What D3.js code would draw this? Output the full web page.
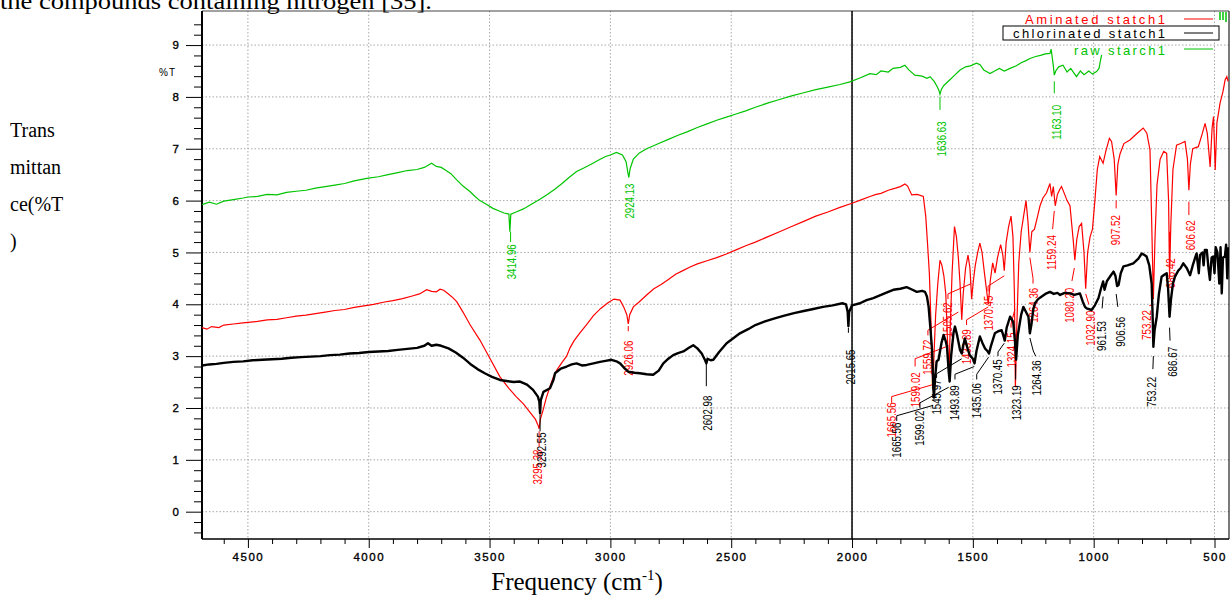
<!DOCTYPE html>
<html><head><meta charset="utf-8">
<script src="https://cdn.jsdelivr.net/npm/d3@7"></script>
<style>body{margin:0;background:#fff;} svg{display:block;}</style>
</head><body><svg id="c" width="1232" height="597"></svg>
<script>
// ---------- data ----------
const xTicks = [4500,4000,3500,3000,2500,2000,1500,1000,500];
const yTicks = [0,1,2,3,4,5,6,7,8,9];
const seriesNames = ["Aminated statch1","chlorinated statch1","raw starch1"];
const seriesColors = ["#ff0000","#000000","#00c400"];

const rawStarch = [[4690,5.92],[4660,5.97],[4630,5.93],[4600,5.99],[4560,6.02],[4520,6.05],[4500,6.07],[4460,6.08],[4420,6.12],[4380,6.11],[4340,6.16],[4300,6.18],[4260,6.2],[4220,6.24],[4180,6.27],[4140,6.3],[4100,6.33],[4060,6.38],[4008,6.43],[3960,6.46],[3920,6.5],[3880,6.54],[3840,6.58],[3800,6.6],[3770,6.64],[3740,6.72],[3720,6.66],[3700,6.64],[3680,6.58],[3660,6.52],[3636,6.4],[3610,6.28],[3580,6.17],[3560,6.08],[3540,6.0],[3510,5.92],[3486,5.85],[3460,5.8],[3440,5.76],[3420,5.74],[3416,5.4],[3412,5.74],[3390,5.78],[3360,5.84],[3320,5.95],[3290,6.03],[3264,6.11],[3230,6.22],[3200,6.33],[3170,6.45],[3140,6.56],[3110,6.63],[3080,6.7],[3050,6.78],[3020,6.85],[3000,6.88],[2975,6.93],[2950,6.88],[2935,6.75],[2928,6.55],[2924,6.45],[2918,6.62],[2905,6.8],[2880,6.92],[2850,7.0],[2800,7.1],[2760,7.18],[2720,7.26],[2680,7.33],[2640,7.41],[2600,7.48],[2560,7.55],[2520,7.61],[2480,7.67],[2440,7.73],[2400,7.8],[2350,7.88],[2300,7.95],[2250,8.02],[2200,8.08],[2150,8.14],[2100,8.19],[2050,8.24],[2009,8.29],[1970,8.36],[1926,8.45],[1900,8.43],[1880,8.5],[1850,8.48],[1830,8.55],[1800,8.57],[1781,8.61],[1765,8.52],[1740,8.42],[1710,8.4],[1690,8.36],[1677,8.39],[1660,8.3],[1648,8.2],[1640,8.12],[1636,8.05],[1630,8.15],[1620,8.22],[1595,8.33],[1575,8.42],[1553,8.52],[1530,8.58],[1510,8.6],[1485,8.65],[1470,8.62],[1455,8.52],[1440,8.48],[1429,8.45],[1410,8.5],[1390,8.55],[1370,8.5],[1346,8.55],[1320,8.6],[1300,8.66],[1280,8.7],[1264,8.74],[1240,8.78],[1220,8.8],[1200,8.83],[1181,8.84],[1176,8.92],[1172,8.78],[1167,8.6],[1163,8.42],[1157,8.5],[1145,8.58],[1127,8.61],[1110,8.48],[1095,8.55],[1080,8.45],[1071,8.39],[1055,8.5],[1040,8.43],[1020,8.5],[1005,8.44],[988,8.49],[978,8.55],[972,8.7],[967,8.81]];

const aminated = [[4690,3.55],[4670,3.52],[4650,3.57],[4620,3.55],[4600,3.6],[4560,3.62],[4520,3.64],[4500,3.65],[4460,3.67],[4420,3.7],[4380,3.71],[4340,3.74],[4300,3.77],[4260,3.79],[4220,3.82],[4180,3.85],[4140,3.88],[4100,3.9],[4060,3.94],[4020,3.97],[3980,4.0],[3940,4.04],[3900,4.07],[3860,4.11],[3820,4.16],[3790,4.2],[3760,4.28],[3740,4.25],[3720,4.24],[3705,4.29],[3690,4.27],[3670,4.2],[3650,4.12],[3636,4.05],[3610,3.85],[3580,3.6],[3540,3.31],[3500,2.97],[3457,2.6],[3420,2.38],[3390,2.22],[3360,2.08],[3330,1.9],[3310,1.78],[3298,1.65],[3295,1.6],[3290,1.78],[3279,1.95],[3265,2.2],[3250,2.41],[3236,2.6],[3222,2.73],[3200,2.88],[3181,3.0],[3167,3.16],[3150,3.3],[3126,3.45],[3100,3.6],[3070,3.78],[3040,3.92],[3010,4.03],[2985,4.1],[2960,4.08],[2945,3.95],[2932,3.8],[2926,3.62],[2920,3.8],[2905,3.95],[2880,4.05],[2850,4.18],[2820,4.3],[2790,4.38],[2760,4.48],[2730,4.58],[2700,4.65],[2670,4.72],[2640,4.78],[2600,4.84],[2560,4.9],[2520,4.97],[2480,5.05],[2440,5.13],[2400,5.2],[2350,5.3],[2300,5.4],[2250,5.5],[2200,5.6],[2150,5.7],[2100,5.78],[2050,5.87],[2000,5.95],[1960,6.02],[1926,6.08],[1900,6.12],[1880,6.14],[1850,6.2],[1820,6.24],[1800,6.27],[1781,6.32],[1770,6.28],[1753,6.11],[1730,6.12],[1705,6.08],[1695,5.7],[1688,5.2],[1680,4.6],[1673,3.6],[1666,2.35],[1661,3.0],[1654,3.8],[1645,4.4],[1636,4.85],[1628,4.75],[1620,4.55],[1612,4.2],[1605,3.3],[1599,2.6],[1594,3.5],[1586,4.6],[1576,5.5],[1568,5.3],[1560,4.9],[1553,4.4],[1546,3.7],[1540,4.2],[1530,4.7],[1520,4.95],[1512,4.7],[1505,4.1],[1498,4.45],[1490,4.75],[1480,5.0],[1471,5.18],[1462,5.0],[1452,4.6],[1444,4.3],[1436,4.0],[1428,4.45],[1418,4.8],[1408,4.6],[1398,4.9],[1385,5.15],[1376,4.95],[1370,4.65],[1362,5.2],[1352,5.5],[1342,5.7],[1334,5.3],[1328,4.2],[1324,2.4],[1318,3.6],[1310,4.8],[1300,5.4],[1290,5.7],[1280,6.0],[1272,5.6],[1264,5.0],[1256,5.4],[1245,5.45],[1232,5.7],[1222,5.9],[1210,6.05],[1195,6.15],[1181,6.33],[1174,6.08],[1167,6.27],[1159,5.9],[1150,6.12],[1140,6.22],[1133,6.27],[1120,6.12],[1110,6.0],[1098,5.9],[1090,5.5],[1084,5.2],[1078,4.85],[1070,5.25],[1060,5.5],[1050,5.56],[1040,5.0],[1033,4.3],[1025,5.0],[1015,5.3],[1005,5.45],[995,6.0],[985,6.6],[975,6.85],[961,6.72],[950,6.95],[935,7.2],[926,7.14],[915,6.8],[907,6.1],[900,6.7],[891,6.9],[875,7.1],[850,7.17],[820,7.3],[795,7.4],[780,7.3],[767,6.98],[760,5.6],[753,4.1],[746,5.3],[738,6.3],[725,6.8],[710,6.95],[698,6.91],[690,6.0],[686,4.5],[681,5.5],[672,6.6],[657,7.07],[640,7.1],[622,7.14],[612,6.8],[606,6.2],[600,6.7],[590,7.0],[567,7.04],[550,7.3],[539,7.49],[530,7.3],[518,6.65],[510,7.4],[504,7.62],[497,6.59],[490,7.5],[477,7.88],[465,8.1],[456,8.33],[449,8.39],[444,8.3]];

const chlorinated = [[4690,2.82],[4660,2.84],[4630,2.85],[4600,2.87],[4560,2.89],[4520,2.9],[4480,2.92],[4440,2.93],[4400,2.94],[4360,2.95],[4320,2.97],[4280,2.98],[4240,2.99],[4200,3.0],[4160,3.02],[4120,3.03],[4080,3.05],[4040,3.06],[4000,3.08],[3960,3.09],[3920,3.1],[3880,3.12],[3840,3.14],[3800,3.16],[3770,3.2],[3755,3.25],[3740,3.2],[3720,3.22],[3700,3.2],[3670,3.15],[3640,3.07],[3610,2.97],[3580,2.85],[3550,2.75],[3520,2.67],[3490,2.6],[3457,2.54],[3430,2.52],[3400,2.5],[3374,2.51],[3345,2.45],[3320,2.35],[3300,2.22],[3294,2.12],[3291,1.9],[3288,2.15],[3277,2.31],[3250,2.38],[3235,2.55],[3229,2.67],[3205,2.76],[3181,2.8],[3160,2.84],[3140,2.86],[3118,2.82],[3098,2.83],[3070,2.86],[3043,2.89],[3020,2.91],[2995,2.93],[2975,2.9],[2960,2.86],[2940,2.76],[2926,2.7],[2900,2.68],[2878,2.67],[2850,2.65],[2823,2.64],[2800,2.72],[2781,2.86],[2760,2.95],[2740,3.02],[2720,3.06],[2698,3.09],[2675,3.16],[2657,3.21],[2640,3.15],[2622,3.05],[2608,2.92],[2603,2.86],[2598,2.95],[2585,2.92],[2574,2.93],[2550,3.08],[2519,3.25],[2490,3.35],[2464,3.44],[2430,3.52],[2400,3.6],[2360,3.67],[2320,3.73],[2280,3.78],[2240,3.83],[2200,3.87],[2160,3.91],[2120,3.95],[2080,3.98],[2040,4.02],[2025,4.0],[2018,3.85],[2015,3.58],[2012,3.85],[2000,3.98],[1967,4.02],[1940,4.08],[1912,4.12],[1880,4.18],[1850,4.24],[1829,4.28],[1800,4.3],[1774,4.33],[1750,4.28],[1732,4.24],[1710,4.26],[1698,4.24],[1690,4.15],[1683,3.95],[1675,3.5],[1669,3.12],[1663,2.35],[1661,2.2],[1656,2.6],[1650,2.9],[1642,2.93],[1630,3.25],[1621,3.41],[1613,3.3],[1607,3.18],[1600,2.7],[1596,2.51],[1590,3.0],[1580,3.45],[1574,3.57],[1565,3.4],[1553,3.12],[1546,3.05],[1540,3.2],[1533,3.34],[1522,3.15],[1513,3.02],[1500,2.95],[1493,2.86],[1485,3.1],[1471,3.38],[1460,3.25],[1450,3.15],[1440,3.1],[1433,3.05],[1425,3.2],[1409,3.44],[1395,3.48],[1381,3.5],[1374,3.4],[1368,3.3],[1360,3.55],[1346,3.76],[1333,3.66],[1326,3.3],[1321,2.93],[1314,3.4],[1300,3.8],[1291,3.95],[1280,3.85],[1270,3.76],[1264,3.44],[1258,3.6],[1250,3.9],[1243,4.02],[1230,4.1],[1215,4.15],[1200,4.2],[1181,4.24],[1165,4.2],[1150,4.22],[1139,4.18],[1120,4.22],[1098,4.21],[1080,4.18],[1057,4.21],[1045,4.05],[1036,3.95],[1029,3.92],[1015,3.9],[1009,3.89],[995,3.98],[980,4.12],[970,4.3],[961,4.44],[955,4.28],[945,4.45],[930,4.55],[918,4.63],[910,4.55],[903,4.35],[897,4.37],[888,4.6],[877,4.73],[860,4.75],[836,4.79],[815,4.88],[801,4.98],[790,4.95],[781,4.92],[770,4.75],[760,4.4],[755,3.6],[753,3.18],[748,3.5],[739,3.76],[730,4.2],[719,4.53],[708,4.57],[698,4.6],[692,4.3],[686,3.76],[680,4.1],[672,4.4],[664,4.53],[650,4.65],[640,4.7],[629,4.79],[615,4.7],[601,4.56],[590,4.75],[580,4.9],[574,4.98],[565,4.6],[560,4.95],[550,5.0],[545,4.75],[540,5.05],[532,5.05],[525,4.7],[519,4.47],[512,4.9],[505,4.92],[500,4.6],[495,5.1],[488,5.0],[480,4.4],[475,5.1],[470,4.21],[465,4.9],[457,4.92],[452,5.15],[447,4.5],[442,5.1]];

// peak annotations: text, label centre (wavenumber, %T), leader points (wavenumber, %T)
const rawPeaks = [
  {t:"3414.96", lx:3411, ly:4.82, lead:[[3413,5.4],[3413,5.2]]},
  {t:"2924.13", lx:2919, ly:5.99, lead:[[2924,6.45],[2924,6.5]]},
  {t:"1636.63", lx:1629, ly:7.19, lead:[[1636,8.0],[1636,7.75]]},
  {t:"1163.10", lx:1152, ly:7.51, lead:[[1163,8.3],[1163,8.07]]}
];
const aminatedPeaks = [
  {t:"3295.38", lx:3302, ly:0.86, lead:[[3295,1.55],[3295,1.25]]},
  {t:"2926.06", lx:2926, ly:2.96, lead:[[2926,3.58],[2926,3.48]]},
  {t:"1665.56", lx:1836, ly:1.77, lead:[[1836,2.1],[1836,2.22],[1666,2.45]]},
  {t:"1599.02", lx:1739, ly:2.35, lead:[[1739,2.8],[1739,2.95],[1600,3.2]]},
  {t:"1559.72", lx:1686, ly:2.98, lead:[[1686,3.4],[1686,3.5],[1560,3.85]]},
  {t:"1505.62", lx:1603, ly:3.70, lead:[[1603,4.1],[1603,4.2],[1506,4.4]]},
  {t:"1433.89", lx:1526, ly:3.18, lead:[[1526,3.6],[1526,3.7],[1436,3.95]]},
  {t:"1370.45", lx:1437, ly:3.83, lead:[[1437,4.25],[1437,4.35],[1370,4.55]]},
  {t:"1324.15", lx:1342, ly:3.12, lead:[[1342,3.55],[1342,3.62],[1326,3.9]]},
  {t:"1264.36", lx:1251, ly:3.98, lead:[[1251,4.4],[1251,4.5],[1264,4.9]]},
  {t:"1159.24", lx:1174, ly:5.0, lead:[[1163,5.8],[1170,5.45]]},
  {t:"1080.20", lx:1098, ly:3.98, lead:[[1080,4.7],[1090,4.45]]},
  {t:"1032.90", lx:1015, ly:3.54, lead:[[1033,4.2],[1020,4.0]]},
  {t:"907.52", lx:908, ly:5.43, lead:[[907,6.0],[907,5.85]]},
  {t:"753.22", lx:780, ly:3.6, lead:[[753,4.0],[770,3.97]]},
  {t:"686.42", lx:684, ly:4.6, lead:[[686,5.4],[686,5.2]]},
  {t:"606.62", lx:601, ly:5.33, lead:[[606,5.98],[606,5.72]]}
];
const chlorinatedPeaks = [
  {t:"3292.55", lx:3283, ly:1.19, lead:[[3291,1.88],[3291,1.55]]},
  {t:"2602.98", lx:2599, ly:1.9, lead:[[2603,2.85],[2603,2.42]]},
  {t:"2015.65", lx:2008, ly:2.79, lead:[[2015,3.55],[2015,3.45]]},
  {t:"1665.56", lx:1815, ly:1.38, lead:[[1815,1.75],[1815,1.85],[1665,2.05]]},
  {t:"1599.02", lx:1719, ly:1.61, lead:[[1719,2.0],[1719,2.1],[1600,2.4]]},
  {t:"1545.97", lx:1650, ly:2.21, lead:[[1650,2.58],[1650,2.66],[1546,2.95]]},
  {t:"1493.89", lx:1574, ly:2.1, lead:[[1574,2.55],[1574,2.65],[1494,2.8]]},
  {t:"1435.06", lx:1484, ly:2.14, lead:[[1484,2.55],[1484,2.65],[1435,2.98]]},
  {t:"1370.45", lx:1396, ly:2.6, lead:[[1396,3.0],[1396,3.08],[1370,3.25]]},
  {t:"1323.19", lx:1319, ly:2.1, lead:[[1323,2.85],[1323,2.55]]},
  {t:"1264.36", lx:1235, ly:2.58, lead:[[1264,3.35],[1250,3.1],[1240,3.0]]},
  {t:"961.53", lx:967, ly:3.39, lead:[[961,4.15],[965,3.92]]},
  {t:"906.56", lx:887, ly:3.47, lead:[[907,4.2],[900,3.95]]},
  {t:"753.22", lx:759, ly:2.31, lead:[[753,3.0],[755,2.75]]},
  {t:"686.67", lx:672, ly:2.89, lead:[[686,3.55],[684,3.3]]}
];

// ---------- drawing ----------
const svg = d3.select("#c");
const L = 202, R = 1229, T = 11, B = 539;
const x = d3.scaleLinear().domain([4690, 440]).range([L, R]);
const y = d3.scaleLinear().domain([-0.527, 9.657]).range([B, T]);

// top cut-off text (continues from the page above)
svg.append("text").attr("x", 0).attr("y", 9)
  .attr("font-family", "Liberation Serif, Times New Roman, serif").attr("font-size", 24)
  .attr("textLength", 432).attr("lengthAdjust", "spacingAndGlyphs")
  .text("the compounds containing nitrogen [35].");

// side label
["Trans","mittan","ce(%T",")"].forEach((s, i) => {
  svg.append("text").attr("x", 10).attr("y", 137 + i * 37)
    .attr("font-family", "Liberation Serif, Times New Roman, serif").attr("font-size", 20)
    .text(s);
});

svg.append("defs").append("clipPath").attr("id", "clip")
  .append("rect").attr("x", L).attr("y", T).attr("width", R - L).attr("height", B - T);

// grid
const grid = svg.append("g").attr("stroke", "#a8a8a8").attr("stroke-dasharray", "1.5,2").attr("stroke-width", 1);
xTicks.forEach(v => grid.append("line").attr("x1", x(v)).attr("x2", x(v)).attr("y1", T).attr("y2", B));
yTicks.forEach(v => grid.append("line").attr("x1", L).attr("x2", R).attr("y1", y(v)).attr("y2", y(v)));

// axes
const fontAx = "Liberation Sans, Arial, sans-serif";
const xMinor = d3.range(4600, 400, -100).filter(v => v % 500 !== 0);
svg.append("g").attr("transform", `translate(0,${B})`)
  .call(d3.axisBottom(x).tickValues(xMinor).tickSize(5).tickFormat(""))
  .call(g => g.select(".domain").remove());
const xa = svg.append("g").attr("transform", `translate(0,${B})`)
  .call(d3.axisBottom(x).tickValues(xTicks).tickSize(9).tickPadding(5).tickFormat(d3.format("d")))
  .call(g => g.select(".domain").remove());
xa.selectAll("text").attr("font-family", fontAx).attr("font-size", 11.5).attr("letter-spacing", 1.5)
  .attr("stroke", "#000").attr("stroke-width", 0.35);

const yMinor = d3.range(-4, 95, 2).map(v => v / 10).filter(v => Math.abs(v - Math.round(v)) > 0.01);
svg.append("g").attr("transform", `translate(${L},0)`)
  .call(d3.axisLeft(y).tickValues(yMinor).tickSize(8).tickFormat(""))
  .call(g => g.select(".domain").remove());
const ya = svg.append("g").attr("transform", `translate(${L},0)`)
  .call(d3.axisLeft(y).tickValues(yTicks).tickSize(16).tickPadding(7).tickFormat(d3.format("d")))
  .call(g => g.select(".domain").remove());
ya.selectAll("text").attr("font-family", fontAx).attr("font-size", 11.5)
  .attr("stroke", "#000").attr("stroke-width", 0.35);

svg.append("text").attr("x", 176).attr("y", 76).attr("text-anchor", "end")
  .attr("font-family", fontAx).attr("font-size", 10).attr("letter-spacing", 1).text("%T");

// frame
svg.append("line").attr("x1", L).attr("x2", R).attr("y1", T).attr("y2", T).attr("stroke", "#444").attr("stroke-width", 1);
svg.append("line").attr("x1", R).attr("x2", R).attr("y1", T).attr("y2", B).attr("stroke", "#222").attr("stroke-width", 1.2);
svg.append("line").attr("x1", L).attr("x2", L).attr("y1", T).attr("y2", B).attr("stroke", "#000").attr("stroke-width", 2);
svg.append("line").attr("x1", L).attr("x2", R).attr("y1", B).attr("y2", B).attr("stroke", "#000").attr("stroke-width", 1.5);
// split line at 2000
svg.append("line").attr("x1", x(2000)).attr("x2", x(2000)).attr("y1", T).attr("y2", B).attr("stroke", "#000").attr("stroke-width", 1.5);

// x axis title
const xt = svg.append("text").attr("x", 577).attr("y", 590).attr("text-anchor", "middle")
  .attr("font-family", "Liberation Serif, Times New Roman, serif").attr("font-size", 25);
xt.append("tspan").text("Frequency (cm");
xt.append("tspan").attr("font-size", 15).attr("dy", -10).text("-1");
xt.append("tspan").attr("dy", 10).text(")");

// series
const line = d3.line().x(d => x(d[0])).y(d => y(d[1]));
const plot = svg.append("g").attr("clip-path", "url(#clip)");
const labelFont = "Liberation Sans, Arial, sans-serif";
function drawPeaks(peaks, color) {
  const g = svg.append("g");
  peaks.forEach(p => {
    g.append("path").attr("d", line(p.lead)).attr("fill", "none").attr("stroke", color).attr("stroke-width", 1);
    g.append("text").attr("transform", `translate(${x(p.lx)},${y(p.ly)}) rotate(-90)`)
      .attr("text-anchor", "middle").attr("dy", "0.36em")
      .attr("font-family", labelFont).attr("font-size", 12.5).attr("fill", color)
      .attr("textLength", p.t.length * 5).attr("lengthAdjust", "spacingAndGlyphs")
      .text(p.t);
  });
}
plot.append("path").attr("d", line(rawStarch)).attr("fill", "none").attr("stroke", seriesColors[2]).attr("stroke-width", 1.2);
drawPeaks(rawPeaks, seriesColors[2]);
plot.append("path").attr("d", line(aminated)).attr("fill", "none").attr("stroke", seriesColors[0]).attr("stroke-width", 1.2);
drawPeaks(aminatedPeaks, seriesColors[0]);
svg.append("g").attr("clip-path", "url(#clip)").append("path").attr("d", line(chlorinated))
  .attr("fill", "none").attr("stroke", seriesColors[1]).attr("stroke-width", 2.4).attr("stroke-linejoin", "round");
drawPeaks(chlorinatedPeaks, seriesColors[1]);

// legend
const lg = svg.append("g");
lg.append("rect").attr("x", 1003).attr("y", 26).attr("width", 216).attr("height", 14)
  .attr("fill", "#fff").attr("stroke", "#000").attr("stroke-width", 1);
const legY = [24, 38, 55], legLineY = [19, 33, 49], legW = [140, 152, 91];
seriesNames.forEach((n, i) => {
  lg.append("text").attr("x", 1165).attr("y", legY[i]).attr("text-anchor", "end")
    .attr("font-family", fontAx).attr("font-size", 13).attr("fill", seriesColors[i])
    .attr("textLength", legW[i]).attr("lengthAdjust", "spacing").text(n);
  lg.append("line").attr("x1", 1184).attr("x2", 1213).attr("y1", legLineY[i]).attr("y2", legLineY[i])
    .attr("stroke", seriesColors[i]).attr("stroke-width", 1);
});
lg.append("path").attr("d", "M1220,12V20M1223,12V20M1226,12V22").attr("stroke", seriesColors[2]).attr("stroke-width", 1.5);
</script></body></html>
